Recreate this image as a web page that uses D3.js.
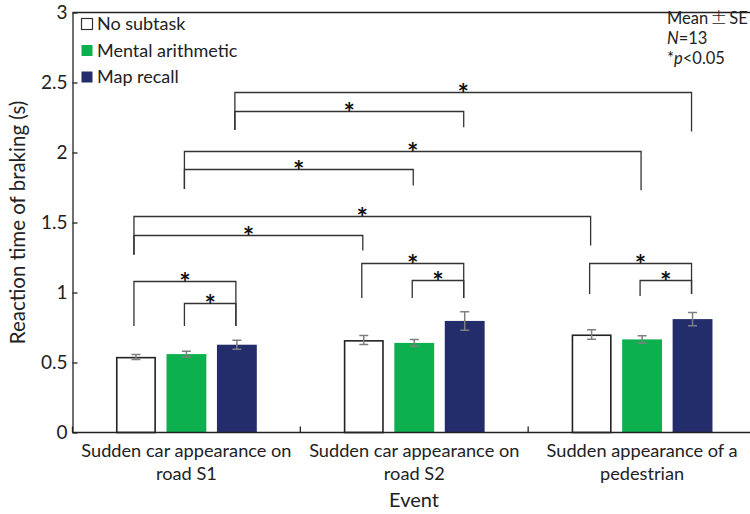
<!DOCTYPE html>
<html><head><meta charset="utf-8">
<script src="https://cdn.jsdelivr.net/npm/d3@7"></script>
<style>
body{margin:0;background:#fff;}
svg{display:block;font-family:Lato,"Open Sans",sans-serif;}
</style></head>
<body><svg id="c" width="750" height="514"></svg>
<script>
// ---- data ----
const categories = ["S1", "S2", "Pedestrian"];
const categoryLabels = [["Sudden car appearance on", "road S1"], ["Sudden car appearance on", "road S2"], ["Sudden appearance of a", "pedestrian"]];
const series = ["No subtask", "Mental arithmetic", "Map recall"];
const noSubtask = [0.54, 0.66, 0.70];
const mentalArithmetic = [0.56, 0.64, 0.665];
const mapRecall = [0.627, 0.797, 0.81];
const seNoSubtask = [0.018, 0.032, 0.034];
const seMentalArithmetic = [0.02, 0.024, 0.026];
const seMapRecall = [0.032, 0.066, 0.048];
const yTicks = [0, 0.5, 1, 1.5, 2, 2.5, 3];
// significance brackets: [cat1, series1, cat2, series2, level, leftEnd, rightEnd]
const brackets = [
  [0, 0, 0, 2, 1.08, 0.76, 0.76],
  [0, 1, 0, 2, 0.925, 0.76, 0.76],
  [1, 0, 1, 2, 1.21, 0.96, 0.96],
  [1, 1, 1, 2, 1.09, 0.96, 0.96],
  [2, 0, 2, 2, 1.21, 0.99, 0.99],
  [2, 1, 2, 2, 1.09, 0.975, 0.99],
  [0, 0, 1, 0, 1.41, 1.27, 1.30],
  [0, 0, 2, 0, 1.545, 1.27, 1.335],
  [0, 1, 1, 1, 1.88, 1.74, 1.765],
  [0, 1, 2, 1, 2.01, 1.74, 1.73],
  [0, 2, 1, 2, 2.30, 2.16, 2.18],
  [0, 2, 2, 2, 2.43, 2.16, 2.15]
];
const colors = ["#ffffff", "#0db04f", "#242d6b"];

const means = [noSubtask, mentalArithmetic, mapRecall];
const ses = [seNoSubtask, seMentalArithmetic, seMapRecall];

// ---- layout ----
const svg = d3.select("#c");
const L = 72.5, R = 756, T = 12.5, B = 432.5;
const x = d3.scaleBand().domain(categories).range([L, R]);
const xs = d3.scaleBand().domain(series).range([0, x.bandwidth()]).paddingInner(0.21).paddingOuter(0.8625);
const y = d3.scaleLinear().domain([0, 3]).range([B, T]);
const cx = (c, s) => x(categories[c]) + xs(series[s]) + xs.bandwidth() / 2;

// frame top line
svg.append("line").attr("x1", L).attr("x2", R).attr("y1", T).attr("y2", T).attr("stroke", "#222").attr("stroke-width", 1.3);

// bars
series.forEach((s, si) => {
  svg.append("g").selectAll("rect").data(means[si]).join("rect")
    .attr("x", (d, i) => x(categories[i]) + xs(s) + (si === 0 ? 0.75 : 0))
    .attr("y", d => y(d) + (si === 0 ? 0.75 : 0))
    .attr("width", xs.bandwidth() - (si === 0 ? 1.5 : 0))
    .attr("height", d => B - y(d) - (si === 0 ? 0.75 : 0))
    .attr("fill", colors[si])
    .attr("stroke", si === 0 ? "#222" : "none")
    .attr("stroke-width", 1.6);
});

// error bars
series.forEach((s, si) => {
  const g = svg.append("g").attr("stroke", "#7f7f7f").attr("stroke-width", 1.5).attr("fill", "none");
  means[si].forEach((m, i) => {
    const c = cx(i, si), e = ses[si][i];
    g.append("path").attr("d", `M${c},${y(m - e)}V${y(m + e)}M${c - 4.5},${y(m - e)}H${c + 4.5}M${c - 4.5},${y(m + e)}H${c + 4.5}`);
  });
});

// axes
const yAxis = d3.axisLeft(y).tickValues(yTicks).tickFormat(d => d).tickSizeInner(-5).tickSizeOuter(0).tickPadding(5);
const gy = svg.append("g").attr("transform", `translate(${L},0)`).call(yAxis);
gy.selectAll("text").attr("font-size", 19).attr("fill", "#222").attr("font-family", "Lato");
gy.selectAll("line, path").attr("stroke", "#222").attr("stroke-width", 1.3);

const gx = svg.append("g").attr("transform", `translate(0,${B})`);
gx.append("line").attr("x1", L).attr("x2", R).attr("stroke", "#222").attr("stroke-width", 1.4);
gx.selectAll(".tk").data(categories).join("line").attr("class", "tk")
  .attr("x1", d => x(d)).attr("x2", d => x(d)).attr("y1", 0).attr("y2", -6)
  .attr("stroke", "#222").attr("stroke-width", 1.3);
gx.selectAll(".lab").data(categories).join("text").attr("class", "lab")
  .attr("text-anchor", "middle").attr("font-size", 18.2).attr("fill", "#222")
  .attr("transform", d => `translate(${x(d) + x.bandwidth() / 2},0)`)
  .each(function (d, i) {
    const t = d3.select(this);
    categoryLabels[i].forEach((ln, k) => t.append("tspan").attr("x", 0).attr("y", 24.5 + k * 23).text(ln));
  });

// axis titles
svg.append("text").attr("x", 414).attr("y", 507).attr("text-anchor", "middle").attr("font-size", 20).attr("fill", "#222").text("Event");
svg.append("text").attr("transform", `translate(25,${(T + B) / 2}) rotate(-90)`).attr("text-anchor", "middle").attr("font-size", 20.5).attr("fill", "#222").text("Reaction time of braking (s)");

// brackets
const bg = svg.append("g").attr("stroke", "#333").attr("stroke-width", 1.3).attr("fill", "none");
const sg = svg.append("g");
brackets.forEach(([c1, s1, c2, s2, lv, e1, e2]) => {
  const xa = cx(c1, s1) - 2, xb = cx(c2, s2) - 1, yl = Math.round(y(lv)) + 0.5;
  bg.append("path").attr("d", `M${xa},${y(e1)}V${yl}H${xb}V${y(e2)}`);
  sg.append("text").attr("x", (xa + xb) / 2).attr("y", yl + 10).attr("text-anchor", "middle")
    .attr("font-size", 27).attr("font-weight", "bold").attr("fill", "#111").text("*");
});

// legend
const lg = svg.append("g");
series.forEach((s, i) => {
  const yy = 24 + i * 26.5;
  lg.append("rect").attr("x", 81.5).attr("y", yy - 5.5).attr("width", 11).attr("height", 11)
    .attr("fill", colors[i]).attr("stroke", i === 0 ? "#333" : "none").attr("stroke-width", 1.2);
  lg.append("text").attr("x", 97).attr("y", yy + 6).attr("font-size", 18).attr("fill", "#222").text(s);
});

// stats note
const ng = svg.append("g").attr("font-size", 16.5).attr("fill", "#222");
const t1 = ng.append("text").attr("x", 667).attr("y", 24);
t1.append("tspan").text("Mean");
t1.append("tspan").attr("dx", 2).attr("font-family", "'Noto Sans CJK JP'").attr("font-weight", 300).attr("font-size", 17).text("±");
t1.append("tspan").attr("dx", 2).text("SE");
const t2 = ng.append("text").attr("x", 667).attr("y", 44);
t2.append("tspan").attr("font-style", "italic").text("N");
t2.append("tspan").text("=13");
const t3 = ng.append("text").attr("x", 667).attr("y", 64);
t3.append("tspan").text("*");
t3.append("tspan").attr("font-style", "italic").text("p");
t3.append("tspan").text("<0.05");
</script></body></html>
